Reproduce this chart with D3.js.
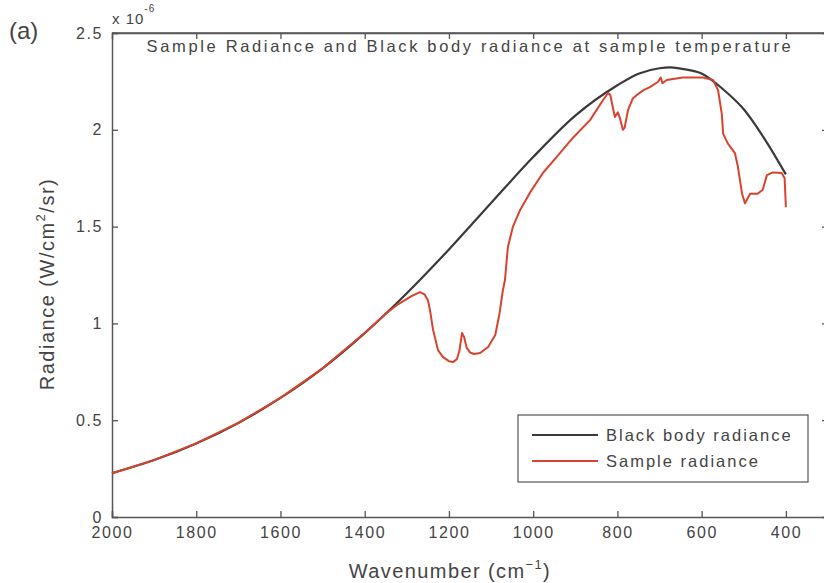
<!DOCTYPE html>
<html>
<head>
<meta charset="utf-8">
<script src="https://cdn.jsdelivr.net/npm/d3@7/dist/d3.min.js"></script>
<style>
  body { margin: 0; background: #fff; }
  text { font-family: "Liberation Sans", Arial, sans-serif; fill: #444; }
</style>
</head>
<body>
<div id="canvas"></div>
<script>
// wavenumber (cm-1) and radiance (x 10^-6 W/cm2/sr)
const blackWn  = [2000, 1900, 1800, 1700, 1600, 1500, 1400, 1300, 1200, 1100, 1000, 900, 800, 750, 700, 675, 650, 600, 550, 500, 450, 400];
const blackVal = [0.226, 0.294, 0.380, 0.486, 0.615, 0.768, 0.950, 1.156, 1.382, 1.622, 1.859, 2.073, 2.230, 2.290, 2.318, 2.322, 2.316, 2.291, 2.211, 2.106, 1.951, 1.770];

const sampleWn  = [2000, 1900, 1800, 1700, 1600, 1500, 1400, 1350, 1320, 1290, 1269, 1258, 1250, 1245, 1238, 1226, 1214, 1200, 1190, 1181, 1175, 1169, 1164, 1158, 1150, 1140, 1126, 1107, 1090, 1080, 1072, 1067, 1060, 1048, 1031, 1008, 977, 944, 906, 865, 834, 822, 817, 806, 799, 794, 787, 783, 775, 764, 754, 738, 723, 704, 697, 693, 683, 645, 597, 573, 561, 552, 549, 538, 521, 514, 504, 497, 485, 467, 455, 445, 431, 410, 403, 400];
const sampleVal = [0.226, 0.294, 0.380, 0.486, 0.615, 0.768, 0.950, 1.050, 1.100, 1.140, 1.162, 1.150, 1.120, 1.070, 0.970, 0.862, 0.826, 0.805, 0.800, 0.816, 0.860, 0.950, 0.930, 0.875, 0.850, 0.842, 0.847, 0.878, 0.940, 1.050, 1.170, 1.224, 1.395, 1.500, 1.586, 1.674, 1.777, 1.860, 1.958, 2.050, 2.154, 2.190, 2.180, 2.066, 2.090, 2.060, 2.000, 2.010, 2.100, 2.160, 2.180, 2.205, 2.220, 2.247, 2.270, 2.240, 2.257, 2.270, 2.270, 2.257, 2.205, 2.080, 1.980, 1.930, 1.880, 1.810, 1.670, 1.620, 1.670, 1.670, 1.690, 1.766, 1.780, 1.777, 1.750, 1.600];

const xTicks = [2000, 1800, 1600, 1400, 1200, 1000, 800, 600, 400];
const yTicks = [0, 0.5, 1, 1.5, 2, 2.5];
const seriesNames = ["Black body radiance", "Sample radiance"];
const seriesColors = ["#3a3a3a", "#d8432e"];

const width = 824, height = 583;
const margin = { left: 112, right: 828, top: 33, bottom: 517 };

const svg = d3.select("#canvas").append("svg")
  .attr("width", width)
  .attr("height", height);

const x = d3.scaleLinear().domain([2000, 300]).range([margin.left, margin.right]);
const y = d3.scaleLinear().domain([0, 2.5]).range([margin.bottom, margin.top]);

const axisColor = "#555";

// frame
svg.append("line").attr("x1", margin.left).attr("x2", margin.right).attr("y1", margin.top).attr("y2", margin.top)
  .attr("stroke", axisColor).attr("stroke-width", 1.5);
svg.append("line").attr("x1", margin.right).attr("x2", margin.right).attr("y1", margin.top).attr("y2", margin.bottom)
  .attr("stroke", axisColor).attr("stroke-width", 1.5);

// bottom axis, ticks pointing inward
svg.append("g")
  .attr("transform", "translate(0," + margin.bottom + ")")
  .call(d3.axisBottom(x).tickValues(xTicks).tickSize(-6).tickPadding(10).tickFormat(d3.format("d")));
// left axis
svg.append("g")
  .attr("transform", "translate(" + margin.left + ",0)")
  .call(d3.axisLeft(y).tickValues(yTicks).tickSize(-6).tickPadding(9).tickFormat(d => String(d)));
// top and right ticks
svg.append("g").attr("transform", "translate(0," + margin.top + ")")
  .call(d3.axisTop(x).tickValues(xTicks.slice(1)).tickSize(-6).tickFormat(""));
svg.append("g").attr("transform", "translate(" + margin.right + ",0)")
  .call(d3.axisRight(y).tickValues(yTicks.slice(1, 5)).tickSize(-6).tickFormat(""));

svg.selectAll(".domain").attr("stroke", axisColor).attr("stroke-width", 1.5);
svg.selectAll(".tick line").attr("stroke", axisColor).attr("stroke-width", 1.3);
svg.selectAll(".tick text")
  .style("font-size", "16px")
  .style("letter-spacing", "1.6px")
  .attr("fill", "#444");

// curves
const line = d3.line()
  .x(d => x(d[0]))
  .y(d => y(d[1]));

svg.append("path")
  .datum(blackWn.map((w, i) => [w, blackVal[i]]))
  .attr("fill", "none")
  .attr("stroke", seriesColors[0])
  .attr("stroke-width", 2.2)
  .attr("d", line.curve(d3.curveMonotoneX));

svg.append("path")
  .datum(sampleWn.map((w, i) => [w, sampleVal[i]]))
  .attr("fill", "none")
  .attr("stroke", seriesColors[1])
  .attr("stroke-width", 2)
  .attr("stroke-linejoin", "round")
  .attr("d", line.curve(d3.curveLinear));

// title and labels
svg.append("text")
  .attr("x", 470).attr("y", 52)
  .attr("text-anchor", "middle")
  .style("font-size", "16.5px")
  .style("letter-spacing", "2.65px")
  .text("Sample Radiance and Black body radiance at sample temperature");

svg.append("text")
  .attr("x", 9).attr("y", 39)
  .style("font-size", "24px")
  .text("(a)");

const expo = svg.append("text")
  .attr("x", 112).attr("y", 24)
  .style("font-size", "15px")
  .style("letter-spacing", "1px");
expo.append("tspan").text("x 10");
expo.append("tspan").attr("dy", -12).style("font-size", "10px").text("-6");

const xl = svg.append("text")
  .attr("x", 450).attr("y", 578)
  .attr("text-anchor", "middle")
  .style("font-size", "20px")
  .style("letter-spacing", "1.4px");
xl.append("tspan").text("Wavenumber (cm");
xl.append("tspan").attr("dy", -9).style("font-size", "13px").text("\u22121");
xl.append("tspan").attr("dy", 9).text(")");

const yl = svg.append("text")
  .attr("transform", "translate(54,284) rotate(-90)")
  .attr("text-anchor", "middle")
  .style("font-size", "20px")
  .style("letter-spacing", "1.5px");
yl.append("tspan").text("Radiance (W/cm");
yl.append("tspan").attr("dy", -9).style("font-size", "13px").text("2");
yl.append("tspan").attr("dy", 9).text("/sr)");

// legend
const legend = svg.append("g");
legend.append("rect")
  .attr("x", 518).attr("y", 415).attr("width", 290).attr("height", 67)
  .attr("fill", "#fff").attr("stroke", axisColor).attr("stroke-width", 1.2);
seriesNames.forEach((name, i) => {
  const ly = 435 + i * 26;
  legend.append("line")
    .attr("x1", 532).attr("x2", 598).attr("y1", ly).attr("y2", ly)
    .attr("stroke", seriesColors[i]).attr("stroke-width", 2.2);
  legend.append("text")
    .attr("x", 606).attr("y", ly + 6)
    .style("font-size", "16.5px")
    .style("letter-spacing", "2px")
    .text(name);
});
</script>
</body>
</html>
